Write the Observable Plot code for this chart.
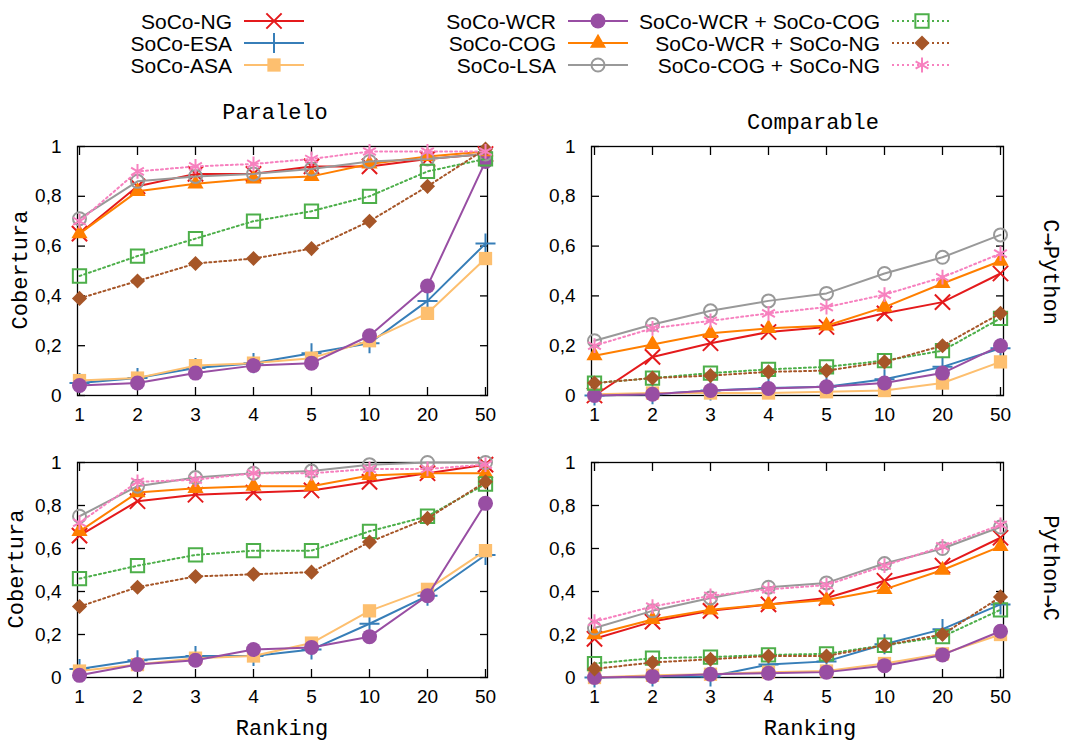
<!DOCTYPE html>
<html>
<head>
<meta charset="utf-8">
<script src="https://cdn.jsdelivr.net/npm/d3@7"></script>
<script src="https://cdn.jsdelivr.net/npm/@observablehq/plot@0.6"></script>
<style>
  body { margin: 0; background: #fff; }
  #root { position: relative; width: 1065px; height: 740px; overflow: hidden; }
  .panel { position: absolute; }
  #overlay { position: absolute; left: 0; top: 0; z-index: 2; pointer-events: none; }
</style>
</head>
<body>
<div id="root"></div>
<script>
// ---------- data ----------
const ranks = ["1", "2", "3", "4", "5", "10", "20", "50"];
const yTicks = [0, 0.2, 0.4, 0.6, 0.8, 1];

const seriesNames = [
  "SoCo-NG", "SoCo-ESA", "SoCo-ASA",
  "SoCo-WCR", "SoCo-COG", "SoCo-LSA",
  "SoCo-WCR + SoCo-COG", "SoCo-WCR + SoCo-NG", "SoCo-COG + SoCo-NG"
];
const seriesColors = [
  "#e41a1c", "#377eb8", "#fdbf6f",
  "#984ea3", "#ff7f00", "#999999",
  "#4daf4a", "#a65628", "#f781bf"
];
const seriesSymbols = ["times", "plus", "square", "circle", "triangle", "circle", "square", "diamond", "asterisk"];
const seriesMarkerStyle = ["stroke", "stroke", "fill", "fill", "fill", "open", "open", "fill", "stroke"];
const seriesMarkerR = [7, 6.5, 7.5, 7.5, 6, 6.5, 7.5, 6.8, 7];
const seriesDotted = [false, false, false, false, false, false, true, true, true];

// rows follow seriesNames order; columns follow ranks
const paraleloCtoPython = [
  [0.65, 0.84, 0.89, 0.89, 0.92, 0.92, 0.95, 0.97],
  [0.05, 0.07, 0.11, 0.13, 0.17, 0.21, 0.38, 0.61],
  [0.06, 0.07, 0.12, 0.13, 0.15, 0.22, 0.33, 0.55],
  [0.04, 0.05, 0.09, 0.12, 0.13, 0.24, 0.44, 0.94],
  [0.65, 0.82, 0.85, 0.87, 0.88, 0.93, 0.96, 0.98],
  [0.71, 0.86, 0.88, 0.89, 0.91, 0.94, 0.95, 0.97],
  [0.48, 0.56, 0.63, 0.70, 0.74, 0.80, 0.90, 0.95],
  [0.39, 0.46, 0.53, 0.55, 0.59, 0.70, 0.84, 0.99],
  [0.70, 0.90, 0.92, 0.93, 0.95, 0.98, 0.98, 0.98]
];
const comparableCtoPython = [
  [0.00, 0.155, 0.21, 0.255, 0.275, 0.33, 0.375, 0.49],
  [0.00, 0.005, 0.02, 0.03, 0.035, 0.065, 0.115, 0.19],
  [0.005, 0.01, 0.01, 0.01, 0.015, 0.02, 0.05, 0.135],
  [0.00, 0.005, 0.02, 0.028, 0.035, 0.05, 0.09, 0.20],
  [0.16, 0.205, 0.25, 0.27, 0.28, 0.355, 0.45, 0.54],
  [0.22, 0.285, 0.34, 0.38, 0.41, 0.49, 0.555, 0.645],
  [0.05, 0.07, 0.09, 0.105, 0.115, 0.14, 0.18, 0.31],
  [0.05, 0.07, 0.08, 0.095, 0.10, 0.135, 0.20, 0.33],
  [0.20, 0.27, 0.30, 0.33, 0.355, 0.405, 0.475, 0.57]
];
const paraleloPythonToC = [
  [0.66, 0.82, 0.85, 0.86, 0.87, 0.91, 0.95, 0.99],
  [0.04, 0.08, 0.10, 0.10, 0.13, 0.25, 0.38, 0.57],
  [0.03, 0.06, 0.09, 0.10, 0.16, 0.31, 0.41, 0.59],
  [0.01, 0.06, 0.08, 0.13, 0.14, 0.19, 0.38, 0.81],
  [0.68, 0.86, 0.88, 0.89, 0.89, 0.94, 0.95, 0.95],
  [0.75, 0.89, 0.93, 0.95, 0.96, 0.99, 1.00, 1.00],
  [0.46, 0.52, 0.57, 0.59, 0.59, 0.68, 0.75, 0.90],
  [0.33, 0.42, 0.47, 0.48, 0.49, 0.63, 0.74, 0.91],
  [0.72, 0.91, 0.92, 0.95, 0.95, 0.97, 0.97, 0.99]
];
const comparablePythonToC = [
  [0.18, 0.26, 0.31, 0.34, 0.37, 0.45, 0.52, 0.65],
  [0.00, 0.005, 0.005, 0.06, 0.075, 0.155, 0.225, 0.34],
  [0.00, 0.01, 0.015, 0.025, 0.03, 0.065, 0.11, 0.20],
  [0.00, 0.005, 0.015, 0.02, 0.025, 0.055, 0.105, 0.215],
  [0.20, 0.27, 0.315, 0.34, 0.36, 0.41, 0.50, 0.61],
  [0.23, 0.31, 0.37, 0.42, 0.44, 0.53, 0.60, 0.70],
  [0.065, 0.09, 0.095, 0.105, 0.11, 0.15, 0.19, 0.315],
  [0.04, 0.07, 0.085, 0.10, 0.10, 0.15, 0.20, 0.375],
  [0.26, 0.33, 0.38, 0.41, 0.43, 0.52, 0.61, 0.71]
];

const panelTitles = ["Paralelo", "Comparable"];
const rowLabels = ["C\u2192Python", "Python\u2192C"];
const yLabel = "Cobertura";
const xLabel = "Ranking";

// ---------- layout ----------
const root = document.getElementById("root");
const sansFont = "'Liberation Sans', Arial, Helvetica, sans-serif";
const monoFont = "'Liberation Mono', 'DejaVu Sans Mono', 'Courier New', monospace";

const symbolMap = {
  times: d3.symbolTimes, plus: d3.symbolPlus, square: d3.symbolSquare,
  circle: d3.symbolCircle, triangle: d3.symbolTriangle, diamond: d3.symbolDiamond2,
  asterisk: d3.symbolAsterisk
};

const panels = [
  {values: paraleloCtoPython,   fx: 77,  fy: 146, fw: 410, fh: 249},
  {values: comparableCtoPython, fx: 591, fy: 146, fw: 412, fh: 249},
  {values: paraleloPythonToC,   fx: 77,  fy: 462, fw: 410, fh: 215},
  {values: comparablePythonToC, fx: 591, fy: 462, fw: 412, fh: 215}
];

const fmt = d => String(d).replace(".", ",");

for (const p of panels) {
  const mL = 70, mT = 12, mR = 12, mB = 40;
  const marks = [
    Plot.frame({stroke: "black", strokeWidth: 1.3}),
    Plot.axisX({anchor: "bottom", tickSize: -8, tickPadding: 20, label: null, strokeWidth: 1.3}),
    Plot.axisX({anchor: "top", tickSize: -8, tickFormat: () => "", label: null, strokeWidth: 1.3}),
    Plot.axisY({anchor: "left", ticks: yTicks, tickSize: -8, tickPadding: 24, tickFormat: fmt, label: null, strokeWidth: 1.3}),
    Plot.axisY({anchor: "right", ticks: yTicks, tickSize: -8, tickFormat: () => "", label: null, strokeWidth: 1.3})
  ];
  seriesNames.forEach((name, s) => {
    const rows = ranks.map((r, i) => ({rank: r, value: p.values[s][i]}));
    const color = seriesColors[s];
    marks.push(Plot.line(rows, {
      x: "rank", y: "value", stroke: color, strokeWidth: 2,
      strokeDasharray: seriesDotted[s] ? "2,3" : null
    }));
    const style = seriesMarkerStyle[s];
    marks.push(Plot.dot(rows, {
      x: "rank", y: "value", symbol: symbolMap[seriesSymbols[s]], r: seriesMarkerR[s],
      fill: style === "fill" ? color : "none",
      stroke: style === "fill" ? "none" : color,
      strokeWidth: 2
    }));
  });
  const chart = Plot.plot({
    width: p.fw + mL + mR,
    height: p.fh + mT + mB,
    marginLeft: mL, marginTop: mT, marginRight: mR, marginBottom: mB,
    style: {fontFamily: sansFont, fontSize: "19px", color: "black", background: "transparent", overflow: "visible"},
    x: {type: "point", domain: ranks, padding: 0},
    y: {domain: [0, 1]},
    marks
  });
  chart.classList.add("panel");
  chart.style.left = (p.fx - mL) + "px";
  chart.style.top = (p.fy - mT) + "px";
  root.appendChild(chart);
}

// ---------- overlay: titles, labels, legend ----------
const svg = d3.select(root).append("svg")
  .attr("id", "overlay").attr("width", 1065).attr("height", 740);

const monoText = (x, y, txt, rot) => {
  const t = svg.append("text")
    .attr("font-family", monoFont).attr("font-size", 22)
    .attr("text-anchor", "middle").attr("dominant-baseline", "central")
    .attr("fill", "black")
    .attr("transform", `translate(${x},${y}) rotate(${rot || 0})`);
  const parts = txt.split("\u2192");
  parts.forEach((part, i) => {
    if (i > 0) t.append("tspan").attr("font-family", "'DejaVu Sans Mono', monospace").text("\u2192");
    t.append("tspan").text(part);
  });
};
monoText(275, 113, panelTitles[0]);
monoText(813, 123, panelTitles[1]);
monoText(21, 270, yLabel, -90);
monoText(17, 569, yLabel, -90);
monoText(1050, 272, rowLabels[0], 90);
monoText(1050, 568, rowLabels[1], 90);
monoText(282, 729, xLabel);
monoText(810, 729, xLabel);

// legend
const colTextEnd = [232, 556, 880];
const rowY = [21, 43, 65];
seriesNames.forEach((name, s) => {
  const c = Math.floor(s / 3), r = s % 3;
  const xe = colTextEnd[c], y = rowY[r];
  const color = seriesColors[s];
  svg.append("text")
    .attr("x", xe).attr("y", y)
    .attr("font-family", sansFont).attr("font-size", 21)
    .attr("text-anchor", "end").attr("dominant-baseline", "central")
    .attr("fill", "black").text(name);
  svg.append("line")
    .attr("x1", xe + 12).attr("x2", xe + 72).attr("y1", y).attr("y2", y)
    .attr("stroke", color).attr("stroke-width", 2)
    .attr("stroke-dasharray", seriesDotted[s] ? "2,3" : null);
  const rr = seriesMarkerR[s];
  const style = seriesMarkerStyle[s];
  svg.append("path")
    .attr("d", d3.symbol(symbolMap[seriesSymbols[s]], rr * rr * Math.PI)())
    .attr("transform", `translate(${xe + 42},${y})`)
    .attr("fill", style === "fill" ? color : "none")
    .attr("stroke", style === "fill" ? "none" : color)
    .attr("stroke-width", 2);
});
</script>
</body>
</html>
